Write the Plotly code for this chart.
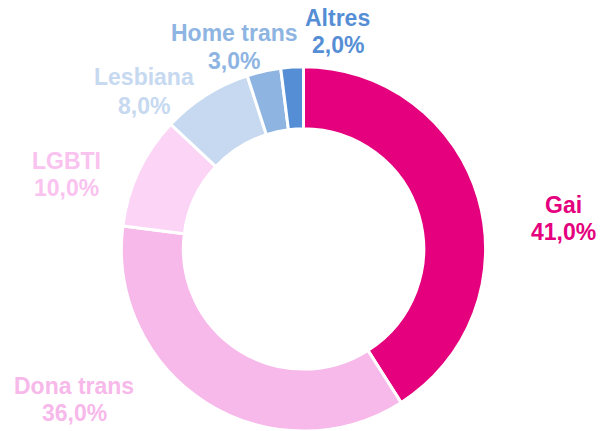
import plotly.graph_objects as go

categories = ["Gai", "Dona trans", "LGBTI", "Lesbiana", "Home trans", "Altres"]
values = [41.0, 36.0, 10.0, 8.0, 3.0, 2.0]

slice_colors = ["#E5007D", "#F7B8EA", "#FCD5F6", "#C6D9F0", "#8EB4E2", "#558ED5"]
text_colors = ["#E5007D", "#F7B8EA", "#F9C2EF", "#C6D9F0", "#8EB4E2", "#558ED5"]

W, H = 601, 431
# label centre positions in pixels (x, y of the name line, y of the value line)
label_pos = [
    (563, 205, 232),
    (74, 386, 413),
    (66, 161, 188),
    (144, 77, 106),
    (234, 33, 61),
    (338, 18, 45),
]

fig = go.Figure(
    go.Pie(
        labels=categories,
        values=values,
        sort=False,
        direction="clockwise",
        rotation=0,
        hole=0.66,
        marker=dict(colors=slice_colors, line=dict(color="white", width=3)),
        textinfo="none",
        hoverinfo="label+percent",
        showlegend=False,
        domain=dict(x=[0.2, 0.81], y=[0.0, 0.845]),
    )
)

font_family = "Liberation Sans, Arial, sans-serif"
for cat, val, col, (px, py1, py2) in zip(categories, values, text_colors, label_pos):
    for txt, py in ((cat, py1), (f"{val:.1f}".replace(".", ",") + "%", py2)):
        fig.add_annotation(
            x=px / W, y=1 - py / H, xref="paper", yref="paper",
            text=f"<b>{txt}</b>", showarrow=False,
            xanchor="center", yanchor="middle",
            font=dict(family=font_family, size=23, color=col),
        )

fig.update_layout(
    width=W, height=H,
    margin=dict(l=0, r=0, t=0, b=0),
    paper_bgcolor="white", plot_bgcolor="white",
    separators=",.",
)

fig.write_html(
    "out.html",
    config={"displayModeBar": False},
    post_script="document.body.style.margin='0';document.body.style.overflow='hidden';",
)
